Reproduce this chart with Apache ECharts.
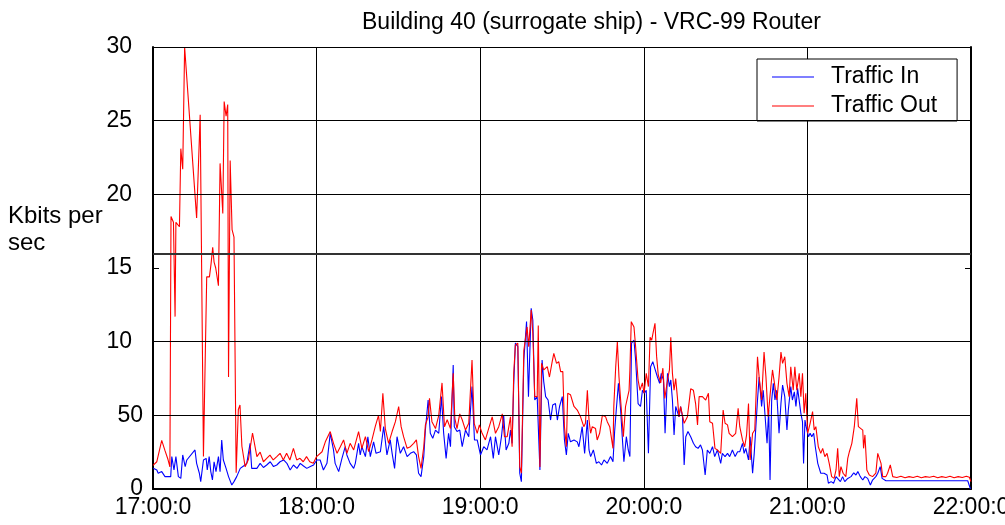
<!DOCTYPE html>
<html>
<head>
<meta charset="utf-8">
<script src="https://cdn.jsdelivr.net/npm/echarts@6/dist/echarts.min.js"></script>
<style>
  html, body { margin: 0; padding: 0; background: #fff; }
  #chart { width: 1005px; height: 525px; }
</style>
</head>
<body>
<div id="chart"></div>
<script>
// minutes after 17:00, Kbits per sec
var inTime = [0.1, 1.4, 1.9, 3.2, 4.4, 5.6, 6.5, 6.9, 7.7, 8.4, 9.3, 10.2, 10.9, 11.8, 12.4, 15.4, 16.0, 17.0, 17.5, 18.5,
  19.5, 19.9, 20.6, 21.2, 21.8, 22.4, 23.1, 24.0, 24.6, 25.2, 25.8, 26.8, 27.7, 28.9, 29.7, 30.7, 32.0, 33.2, 34.4, 35.6,
  36.2, 36.8, 38.1, 39.3, 40.5, 41.7, 43.0, 44.2, 45.4, 46.6, 47.9, 49.1, 50.3, 51.5, 52.8, 54.0, 55.2, 56.4, 57.7, 58.9,
  60.1, 61.3, 62.5, 63.8, 65.0, 66.2, 66.8, 68.1, 69.3, 70.5, 71.1, 72.3, 73.6, 74.2, 75.4, 76.0, 76.6, 77.9, 78.8, 79.7,
  80.9, 81.8, 83.4, 84.6, 85.8, 87.0, 87.7, 88.6, 89.5, 90.7, 91.9, 93.2, 94.4, 95.6, 96.6, 97.4, 98.3, 99.3, 99.9, 100.9,
  101.7, 102.6, 103.6, 104.8, 105.8, 106.6, 107.5, 108.4, 109.1, 110.1, 110.5, 111.5, 112.5, 113.4, 114.6, 115.8, 117.0, 117.9, 118.9, 120.1,
  121.3, 122.5, 123.8, 124.8, 125.6, 126.8, 127.8, 128.6, 129.5, 130.5, 131.1, 131.7, 132.3, 132.9, 133.8, 134.5, 135.1, 136.0, 137.0, 137.7,
  138.7, 139.3, 140.0, 140.9, 141.9, 142.7, 143.3, 144.0, 144.9, 145.8, 146.6, 147.6, 148.3, 149.1, 150.1, 150.9, 151.6, 152.3, 153.1, 154.4,
  155.6, 156.2, 157.4, 158.3, 159.3, 159.9, 160.5, 161.5, 162.6, 163.5, 164.5, 165.4, 166.6, 167.8, 168.7, 169.3, 169.9, 170.7, 171.5, 172.1,
  172.7, 173.6, 174.3, 174.9, 175.5, 176.4, 177.0, 177.9, 178.8, 179.5, 180.2, 180.9, 181.7, 182.5, 183.3, 184.0, 185.0, 185.8, 186.4, 187.2,
  187.8, 188.7, 189.4, 189.9, 190.5, 191.1, 191.7, 192.9, 193.5, 194.2, 194.8, 195.4, 196.2, 197.2, 198.2, 199.0, 199.9, 200.8, 201.5, 202.5,
  203.3, 204.2, 205.2, 206.0, 207.0, 208.2, 208.8, 209.8, 210.7, 211.5, 212.5, 213.5, 214.4, 215.2, 216.2, 216.8, 217.4, 218.4, 219.0, 219.9,
  220.5, 221.1, 221.7, 222.3, 223.2, 223.8, 224.5, 225.2, 225.8, 226.3, 226.9, 227.5, 228.1, 228.7, 229.6, 230.3, 230.9, 231.7, 232.5, 233.0,
  233.9, 234.5, 235.2, 235.8, 236.4, 237.0, 237.6, 238.2, 238.6, 239.1, 239.8, 240.4, 241.0, 241.6, 242.3, 242.9, 243.8, 244.9, 246.1, 247.2,
  247.7, 248.7, 249.6, 250.5, 251.1, 252.1, 252.9, 253.7, 254.8, 256.0, 257.0, 257.8, 258.5, 259.4, 260.3, 261.1, 262.1, 263.1, 263.9, 265.1,
  265.8, 266.7, 267.4, 268.8, 298.8, 299.8];
var inVals = [1.4, 1.29, 1.07, 1.18, 0.84, 0.84, 0.84, 2.2, 1.29, 2.2, 0.84, 0.72, 2.31, 1.52, 1.97, 2.65, 1.74, 1.07, 0.5, 1.97,
  2.08, 1.29, 2.2, 1.18, 0.61, 1.85, 1.18, 2.2, 1.18, 3.33, 1.97, 1.4, 0.84, 0.27, 0.5, 0.84, 1.4, 1.56, 1.74, 3.1,
  1.4, 1.52, 1.4, 1.74, 1.46, 1.63, 1.85, 1.52, 1.63, 1.85, 1.97, 1.74, 1.29, 1.63, 1.4, 1.74, 1.56, 1.4, 1.52, 1.63,
  1.97, 1.97, 1.29, 1.74, 3.78, 2.65, 1.74, 1.18, 2.08, 2.87, 2.31, 1.74, 1.4, 1.74, 3.1, 2.31, 2.87, 2.2, 3.55, 2.2,
  3.2, 2.42, 2.53, 4.23, 2.31, 3.33, 2.42, 1.4, 3.55, 2.42, 2.87, 2.2, 2.42, 2.53, 2.31, 1.07, 0.84, 2.2, 4.0, 6.04,
  3.78, 3.44, 4.0, 3.78, 6.27, 3.78, 2.08, 3.78, 2.87, 8.42, 4.23, 3.9, 4.0, 2.87, 4.0, 3.55, 6.95, 3.33, 3.33, 2.31,
  2.87, 2.65, 3.55, 2.08, 3.55, 2.31, 3.55, 5.0, 2.65, 3.1, 4.0, 3.1, 7.17, 9.9, 9.66, 1.07, 0.5, 8.76, 11.36, 6.27,
  12.27, 11.47, 6.04, 6.27, 1.29, 8.76, 7.29, 6.27, 6.04, 4.68, 5.7, 5.8, 4.68, 5.6, 6.27, 3.33, 2.31, 3.78, 3.2, 3.33,
  3.2, 2.87, 4.23, 2.42, 4.68, 2.65, 2.2, 2.65, 1.74, 1.85, 1.63, 1.97, 1.74, 2.2, 1.85, 3.9, 5.36, 7.17, 5.36, 3.55,
  1.85, 3.55, 2.65, 2.2, 9.9, 10.1, 8.76, 5.8, 5.6, 6.7, 6.5, 6.7, 2.42, 8.3, 8.64, 8.2, 7.6, 7.17, 7.85, 7.4,
  3.78, 7.85, 6.95, 7.4, 6.04, 3.67, 5.6, 4.9, 5.6, 4.9, 1.63, 3.55, 3.9, 3.55, 3.1, 2.87, 2.76, 2.99, 2.65, 0.95,
  2.65, 2.42, 2.87, 2.2, 2.65, 1.74, 2.42, 2.2, 2.42, 2.2, 2.65, 2.2, 2.53, 2.53, 3.1, 2.42, 2.76, 1.97, 3.55, 1.07,
  2.42, 4.23, 6.04, 7.6, 5.6, 6.7, 4.9, 3.1, 5.36, 0.61, 6.04, 7.17, 6.04, 6.7, 3.78, 5.8, 7.06, 6.27, 4.0, 5.36,
  6.95, 6.04, 6.6, 5.6, 6.83, 6.7, 5.14, 4.57, 1.74, 4.68, 4.0, 3.55, 3.78, 3.55, 3.78, 2.87, 1.74, 1.07, 1.07, 0.95,
  0.39, 0.5, 0.39, 0.84, 0.72, 0.5, 0.84, 0.5, 0.72, 0.84, 1.1, 0.95, 1.18, 0.84, 0.61, 0.84, 0.72, 0.27, 0.61, 0.84,
  1.07, 1.52, 0.72, 0.56, 0.56, 0.0];

var outTime = [0.0, 1.4, 3.2, 4.4, 5.5, 6.2, 6.6, 7.5, 8.1, 8.4, 9.7, 10.2, 10.9, 11.6, 16.0, 16.6, 17.3, 18.5, 19.7, 20.7,
  21.3, 21.9, 22.4, 23.0, 24.0, 24.6, 25.6, 26.1, 26.8, 27.4, 27.7, 28.3, 29.0, 29.7, 30.5, 31.3, 31.9, 32.6, 33.8, 35.0,
  36.5, 38.1, 39.3, 40.5, 41.7, 42.9, 44.1, 45.4, 46.6, 47.8, 49.0, 50.2, 51.5, 52.7, 53.9, 55.1, 56.3, 57.5, 58.8, 60.0,
  62.0, 63.2, 65.0, 66.2, 67.5, 68.7, 69.9, 71.1, 72.3, 73.6, 75.4, 76.6, 77.9, 79.1, 80.3, 81.5, 82.7, 83.4, 84.3, 85.2,
  86.4, 87.7, 88.9, 90.1, 91.0, 91.9, 93.2, 94.4, 95.6, 96.6, 97.4, 98.3, 99.3, 99.9, 100.9, 101.4, 102.3, 103.6, 104.8, 106.0,
  106.9, 107.9, 109.1, 110.1, 110.7, 111.5, 112.5, 113.4, 114.6, 115.8, 117.0, 117.8, 118.9, 119.7, 120.7, 121.9, 123.1, 124.4, 125.6, 126.8,
  128.1, 128.9, 129.9, 131.1, 131.7, 132.3, 132.9, 133.8, 134.5, 135.1, 136.0, 137.2, 137.8, 138.7, 139.3, 140.0, 140.9, 141.3, 141.9, 142.5,
  143.3, 144.0, 144.6, 145.4, 146.4, 147.0, 148.0, 148.8, 149.5, 150.3, 150.9, 151.6, 152.1, 153.1, 154.4, 155.6, 156.8, 158.0, 158.6, 159.3,
  159.9, 160.5, 161.1, 162.3, 162.9, 163.8, 164.8, 166.0, 166.6, 167.5, 168.7, 169.0, 169.7, 170.3, 170.9, 171.5, 172.5, 173.3, 174.6, 174.9,
  175.4, 176.4, 177.0, 177.9, 178.6, 179.5, 180.1, 180.9, 181.7, 182.3, 182.9, 183.4, 184.1, 184.7, 185.3, 186.2, 187.0, 187.7, 188.7, 189.4,
  189.9, 190.5, 191.1, 191.7, 192.3, 192.9, 193.5, 194.8, 196.0, 197.2, 198.2, 199.0, 199.7, 200.3, 201.5, 202.7, 203.7, 204.2, 205.2, 206.1,
  207.0, 208.2, 209.1, 209.8, 210.7, 211.3, 212.5, 213.7, 214.6, 215.2, 216.2, 217.0, 217.7, 218.4, 219.0, 219.9, 220.7, 221.7, 222.3, 223.2,
  224.1, 224.8, 225.6, 226.6, 227.2, 228.1, 228.8, 229.6, 230.3, 230.9, 231.7, 232.5, 233.3, 233.9, 234.8, 235.4, 236.1, 237.0, 237.6, 238.2,
  238.8, 239.4, 240.1, 241.0, 241.9, 242.5, 243.1, 244.0, 244.9, 245.6, 246.4, 247.2, 248.0, 248.9, 249.8, 250.5, 251.1, 251.7, 252.3, 253.1,
  254.1, 254.8, 255.4, 256.3, 257.2, 258.1, 258.7, 259.4, 260.3, 260.6, 261.1, 261.8, 262.7, 263.9, 265.1, 265.8, 266.4, 267.0, 267.6, 268.8,
  269.4, 270.4, 271.3, 272.8, 274.3, 275.8, 277.3, 278.8, 280.3, 281.8, 283.3, 284.8, 286.3, 287.8, 289.3, 290.8, 292.3, 293.8, 295.3, 296.8,
  298.3, 299.4, 300.0];
var outVals = [1.6, 1.85, 3.3, 2.6, 2.0, 1.5, 18.5, 18.1, 11.7, 18.1, 17.8, 23.1, 21.7, 30.0, 18.4, 18.3, 25.4, 2.2, 14.4, 14.4,
  15.3, 16.4, 15.4, 15.0, 13.8, 22.1, 18.7, 26.3, 25.3, 26.1, 7.6, 22.3, 17.6, 17.1, 1.1, 5.4, 5.7, 2.9, 1.5, 2.0,
  3.8, 2.2, 2.5, 1.85, 2.08, 2.3, 1.97, 2.2, 2.42, 1.97, 2.42, 1.97, 2.76, 1.97, 2.08, 1.85, 2.2, 1.85, 1.74, 2.2,
  2.53, 3.2, 3.9, 3.1, 2.42, 2.87, 3.33, 2.42, 3.1, 2.65, 3.9, 2.76, 3.55, 2.53, 3.33, 4.23, 5.0, 3.9, 6.5, 4.1,
  3.1, 3.9, 4.57, 5.6, 4.23, 3.55, 2.76, 2.87, 3.1, 3.33, 2.2, 1.4, 2.87, 4.35, 4.9, 6.15, 4.57, 4.1, 5.0, 7.2,
  4.23, 4.7, 4.1, 7.85, 4.8, 4.1, 5.1, 4.7, 4.0, 4.46, 8.76, 4.46, 3.78, 4.35, 3.78, 3.33, 4.1, 4.9, 3.78, 4.23,
  5.1, 3.55, 3.55, 4.9, 2.87, 7.85, 9.78, 9.9, 1.5, 1.07, 9.4, 11.0, 9.66, 12.15, 10.6, 6.27, 6.27, 11.1, 1.5, 8.53,
  8.08, 8.08, 8.3, 7.6, 8.64, 9.2, 8.53, 8.64, 7.97, 7.97, 4.23, 2.87, 6.5, 6.4, 5.6, 5.36, 4.9, 4.23, 4.46, 6.7,
  4.7, 3.78, 4.23, 4.1, 3.33, 3.78, 5.0, 4.9, 4.57, 4.23, 2.76, 5.6, 8.3, 10.0, 7.6, 6.04, 3.55, 5.6, 6.7, 8.08,
  11.36, 11.0, 9.66, 7.4, 6.7, 7.2, 6.5, 7.85, 6.95, 10.3, 10.1, 10.6, 11.25, 9.0, 7.74, 7.2, 8.2, 6.15, 7.4, 8.08,
  10.3, 7.85, 6.7, 7.5, 6.27, 4.9, 5.6, 4.46, 4.9, 6.8, 6.7, 5.8, 4.35, 6.27, 6.27, 6.04, 6.5, 4.57, 4.46, 2.76,
  2.65, 2.42, 5.36, 4.46, 4.35, 3.78, 3.55, 3.78, 5.47, 4.23, 3.33, 2.87, 3.67, 5.8, 1.97, 3.78, 4.0, 8.98, 7.6, 6.04,
  9.3, 7.6, 4.9, 6.95, 8.08, 6.95, 6.04, 7.6, 9.3, 8.53, 8.98, 7.17, 6.27, 8.3, 6.7, 8.3, 6.7, 7.85, 6.27, 7.85,
  5.14, 6.5, 3.78, 4.46, 5.25, 4.0, 4.23, 2.87, 2.42, 2.76, 2.2, 2.42, 1.74, 0.84, 0.72, 1.29, 2.76, 0.84, 1.52, 1.07,
  0.84, 2.08, 2.53, 3.1, 4.23, 6.15, 4.23, 4.1, 4.0, 2.76, 3.67, 1.29, 0.95, 0.84, 1.07, 2.42, 2.53, 1.74, 0.84, 0.84,
  1.07, 1.63, 0.84, 0.78, 0.86, 0.76, 0.84, 0.78, 0.86, 0.76, 0.84, 0.8, 0.86, 0.76, 0.84, 0.78, 0.86, 0.76, 0.84, 0.78,
  0.86, 0.8, 0.5];

var xTickLabels = ['17:00:0', '18:00:0', '19:00:0', '20:00:0', '21:00:0', '22:00:0'];
var yTickLabels = ['0', '50', '10', '15', '20', '25', '30'];
var gridValues = [5, 10, 16, 20, 25, 30];

var chart = echarts.init(document.getElementById('chart'));
var font = "'Liberation Sans', Arial, sans-serif";

var inData = inTime.map(function (t, i) { return [t, inVals[i]]; });
var outData = outTime.map(function (t, i) { return [t, outVals[i]]; });

var option = {
	animation: false,
	backgroundColor: '#fff',
	textStyle: { fontFamily: font, color: '#000' },
	title: {
		text: 'Building 40 (surrogate ship) - VRC-99 Router',
		left: 357,
		top: 6,
		textStyle: { fontFamily: font, fontSize: 23, fontWeight: 'normal', color: '#000' }
	},
	graphic: [{
		type: 'text',
		left: 8,
		top: 203,
		style: { text: 'Kbits per\nsec', font: '24px ' + font, fill: '#000', lineHeight: 27 }
	}],
	legend: {
		orient: 'vertical',
		left: 757,
		top: 59,
		padding: [6, 20, 3, 15],
		itemGap: 5,
		itemWidth: 42,
		itemHeight: 1,
		icon: 'rect',
		backgroundColor: '#fff',
		borderColor: '#000',
		borderWidth: 1,
		borderRadius: 0,
		textStyle: { fontFamily: font, fontSize: 23, color: '#000', lineHeight: 24, padding: [0, 0, 0, 12] },
		data: ['Traffic In', 'Traffic Out']
	},
	grid: { left: 153, right: 34, top: 47, bottom: 36, containLabel: false, outerBoundsMode: 'none' },
	xAxis: {
		type: 'value',
		min: 0,
		max: 300,
		interval: 60,
		axisLine: { show: true, onZero: false, lineStyle: { color: '#000', width: 2 } },
		axisTick: { show: false },
		axisLabel: {
			margin: 7,
			fontSize: 23,
			color: '#000',
			fontFamily: font,
			formatter: function (v) { return xTickLabels[Math.round(v / 60)]; }
		},
		splitLine: { show: true, lineStyle: { color: '#000', width: 1 } }
	},
	yAxis: [{
		type: 'value',
		min: 0,
		max: 30,
		interval: 5,
		axisLine: { show: true, lineStyle: { color: '#000', width: 2 } },
		axisTick: { show: true, inside: true, length: 6, lineStyle: { color: '#000' } },
		axisLabel: {
			margin: 10,
			color: '#000',
			formatter: function (v) {
				var i = Math.round(v / 5);
				return (i >= 2 ? '{w|' : '{n|') + yTickLabels[i] + '}';
			},
			rich: {
				n: { fontSize: 23, fontFamily: font, color: '#000' },
				w: { fontSize: 23, fontFamily: font, color: '#000', padding: [0, 11, 0, 0] }
			}
		},
		splitLine: { show: false }
	}, {
		type: 'value',
		position: 'right',
		min: 0,
		max: 30,
		interval: 5,
		axisLine: { show: true, lineStyle: { color: '#000', width: 2 } },
		axisTick: { show: true, inside: true, length: 6, lineStyle: { color: '#000' } },
		axisLabel: { show: false },
		splitLine: { show: false }
	}],
	series: [{
		name: 'grid',
		type: 'line',
		data: [],
		z: 1,
		silent: true,
		markLine: {
			silent: true,
			symbol: 'none',
			label: { show: false },
			emphasis: { disabled: true },
			data: gridValues.map(function (v) {
				return { yAxis: v, lineStyle: { color: v === 16 ? '#333' : '#000', width: v === 16 ? 2 : 1, type: 'solid' } };
			})
		}
	}, {
		name: 'Traffic In',
		type: 'line',
		data: inData,
		z: 3,
		symbol: 'none',
		showSymbol: false,
		color: '#0000ff',
		lineStyle: { color: '#0000ff', width: 1.1 }
	}, {
		name: 'Traffic Out',
		type: 'line',
		data: outData,
		z: 4,
		symbol: 'none',
		showSymbol: false,
		color: '#ff0000',
		lineStyle: { color: '#ff0000', width: 1.1 }
	}]
};

chart.setOption(option);
</script>
</body>
</html>
